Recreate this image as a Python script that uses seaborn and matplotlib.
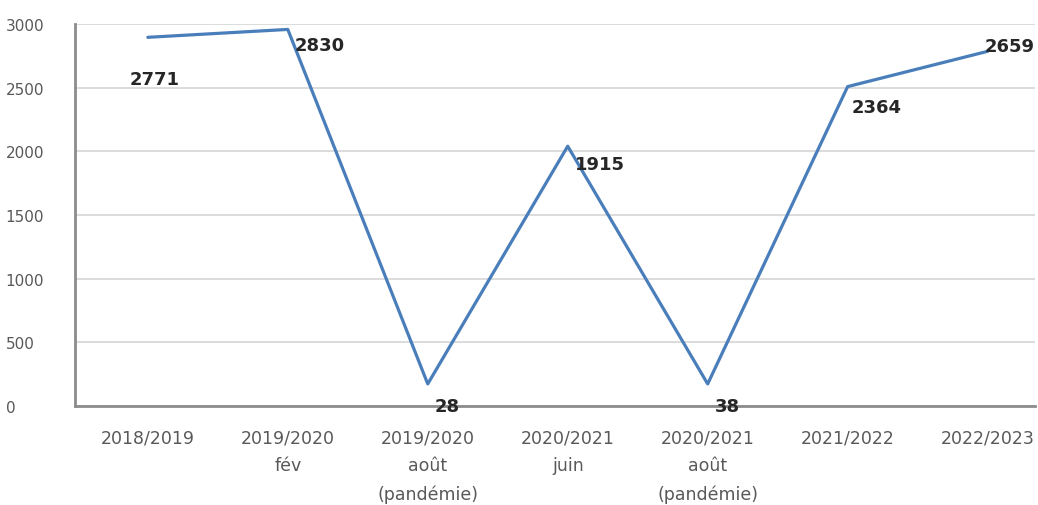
import matplotlib
matplotlib.use("Agg")
import matplotlib.pyplot as plt
import seaborn as sns
import pandas as pd

# periods on the x axis
periods = ["2018/2019", "2019/2020\nfév", "2019/2020\naoût\n(pandémie)", "2020/2021\njuin",
           "2020/2021\naoût\n(pandémie)", "2021/2022", "2022/2023"]
# height of the drawn line
line_values = [2895, 2957, 173, 2040, 173, 2508, 2785]
# numbers printed next to the points
label_values = [2771, 2830, 28, 1915, 38, 2364, 2659]

df = pd.DataFrame({"periode": periods, "valeur": line_values})

sns.set_style("white")
plt.rcParams["font.family"] = ["DejaVu Sans"]

fig = plt.figure(figsize=(10.38, 5.06), dpi=100)
ax = fig.add_axes([0.0723, 0.1957, 0.925, 0.755])

sns.lineplot(data=df, x="periode", y="valeur", sort=False, color="#4a7ebb", linewidth=2.3, ax=ax)

# label offsets (points) and alignment so the numbers sit like in the original
offsets = [(5, -30), (5, -11), (14, -16), (5, -13), (14, -16), (3, -15), (-2, 4)]
aligns = ["center", "left", "center", "left", "center", "left", "left"]
for i, (v, lab) in enumerate(zip(line_values, label_values)):
    ax.annotate(str(lab), (i, v), xytext=offsets[i], textcoords="offset points",
                ha=aligns[i], va="center", fontsize=13, fontweight="bold", color="#262626")

ax.set_ylim(0, 3000)
ax.set_xlim(-0.52, 6.34)
ax.set_yticks([0, 500, 1000, 1500, 2000, 2500, 3000])
ax.yaxis.grid(True, color="#d9d9d9", linewidth=1.3)
ax.set_axisbelow(True)

for s in ["top", "right"]:
    ax.spines[s].set_visible(False)
for s in ["left", "bottom"]:
    ax.spines[s].set_color("#8c8c8c")
    ax.spines[s].set_linewidth(2)

ax.tick_params(axis="y", length=0, pad=50, labelsize=11, labelcolor="#595959")
ax.tick_params(axis="x", length=0, pad=16, labelsize=12.5, labelcolor="#595959")
for t in ax.get_yticklabels():
    t.set_ha("left")
for t in ax.get_xticklabels():
    t.set_linespacing(1.7)

ax.set_xlabel("")
ax.set_ylabel("")

fig.savefig("out.png", dpi=100)
